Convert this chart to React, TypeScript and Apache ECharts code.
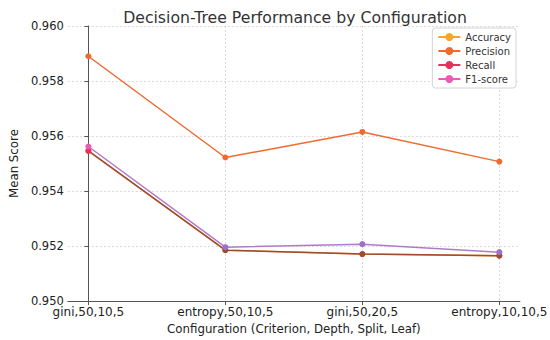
import React, { useEffect, useRef } from "react";
import * as echarts from "echarts";

const categories = ["gini,50,10,5", "entropy,50,10,5", "gini,50,20,5", "entropy,10,10,5"];
const accuracy = [0.95546, 0.95185, 0.95171, 0.95165];
const precision = [0.9589, 0.95522, 0.95615, 0.95507];
const recall = [0.95546, 0.95185, 0.95171, 0.95165];
const f1 = [0.95562, 0.95196, 0.95207, 0.95178];
const yTicks = [0.95, 0.952, 0.954, 0.956, 0.958, 0.96];

const FONT = "DejaVu Sans";

export default function App() {
  const ref = useRef<HTMLDivElement>(null);
  useEffect(() => {
    const chart = echarts.init(ref.current!, null, { renderer: "svg" });
    const idx = categories.map((_, i) => i);
    const mk = (name: string, vals: number[], line: string, first: string, rest: string, z: number) => ({
      name,
      type: "line",
      data: vals.map((v, i) => [i, v]),
      symbol: "circle",
      symbolSize: 6,
      z,
      lineStyle: { color: line, width: 1.5 },
      itemStyle: { color: (p: any) => (p.dataIndex === 0 ? first : rest) },
      emphasis: { disabled: true },
    });
    chart.setOption({
      animation: false,
      textStyle: { fontFamily: FONT },
      title: {
        text: "Decision-Tree Performance by Configuration",
        left: 290,
        textAlign: "center",
        top: 4,
        textStyle: { fontFamily: FONT, fontSize: 15.7, fontWeight: "normal", color: "#333" },
      },
      legend: {
        orient: "vertical",
        right: 34,
        top: 28,
        itemWidth: 22,
        itemHeight: 10,
        itemGap: 4,
        padding: [4, 5, 4, 5],
        backgroundColor: "#fff",
        borderColor: "#d5d5d5",
        borderWidth: 1,
        borderRadius: 3,
        textStyle: { fontFamily: FONT, fontSize: 10, color: "#333" },
        data: [
          { name: "Accuracy", itemStyle: { color: "#f5a623" }, lineStyle: { color: "#f5a623" } },
          { name: "Precision", itemStyle: { color: "#f06a30" }, lineStyle: { color: "#f06a30" } },
          { name: "Recall", itemStyle: { color: "#e8305a" }, lineStyle: { color: "#e8305a" } },
          { name: "F1-score", itemStyle: { color: "#ec5ab8" }, lineStyle: { color: "#ec5ab8" } },
        ],
      },
      grid: { left: 60, right: 30, top: 26, bottom: 35, containLabel: false },
      xAxis: {
        type: "value",
        min: -0.15,
        max: 3.15,
        name: "Configuration (Criterion, Depth, Split, Leaf)",
        nameLocation: "middle",
        nameGap: 21,
        nameTextStyle: { fontFamily: FONT, fontSize: 11.8, color: "#222" },
        axisLine: { lineStyle: { color: "#555", width: 1 } },
        axisTick: { show: true, length: 4, customValues: idx, lineStyle: { color: "#555" } },
        axisLabel: {
          customValues: idx,
          margin: 5,
          fontFamily: FONT,
          fontSize: 12,
          color: "#222",
          formatter: (v: number) => categories[Math.round(v)] ?? "",
        },
        splitLine: { show: true, lineStyle: { color: "#d0d0d0", type: [2, 2], width: 0.8 } },
      },
      yAxis: {
        type: "value",
        min: 0.95,
        max: 0.96,
        interval: 0.002,
        name: "Mean Score",
        nameLocation: "middle",
        nameGap: 45,
        nameTextStyle: { fontFamily: FONT, fontSize: 11.8, color: "#222" },
        axisLine: { show: true, lineStyle: { color: "#555", width: 1 } },
        axisTick: { show: true, length: 4, lineStyle: { color: "#555" } },
        axisLabel: {
          margin: 4,
          fontFamily: FONT,
          fontSize: 11.5,
          color: "#222",
          formatter: (v: number) => {
            const hit = yTicks.find((t) => Math.abs(t - v) < 1e-9);
            return (hit ?? v).toFixed(3);
          },
        },
        splitLine: { show: true, lineStyle: { color: "#d0d0d0", type: [2, 2], width: 0.8 } },
      },
      series: [
        mk("Accuracy", accuracy, "#f5a623", "#f5a623", "#f5a623", 2),
        mk("Precision", precision, "#f06a30", "#f06a30", "#f06a30", 3),
        mk("Recall", recall, "#9c4a3a", "#e8305a", "#9c4a3a", 4),
        mk("F1-score", f1, "#b07acc", "#ec5ab8", "#a070c8", 5),
      ],
    });
    return () => chart.dispose();
  }, []);
  return <div ref={ref} style={{ position: "fixed", left: 0, top: 0, width: 550, height: 340, background: "#fff" }} />;
}
